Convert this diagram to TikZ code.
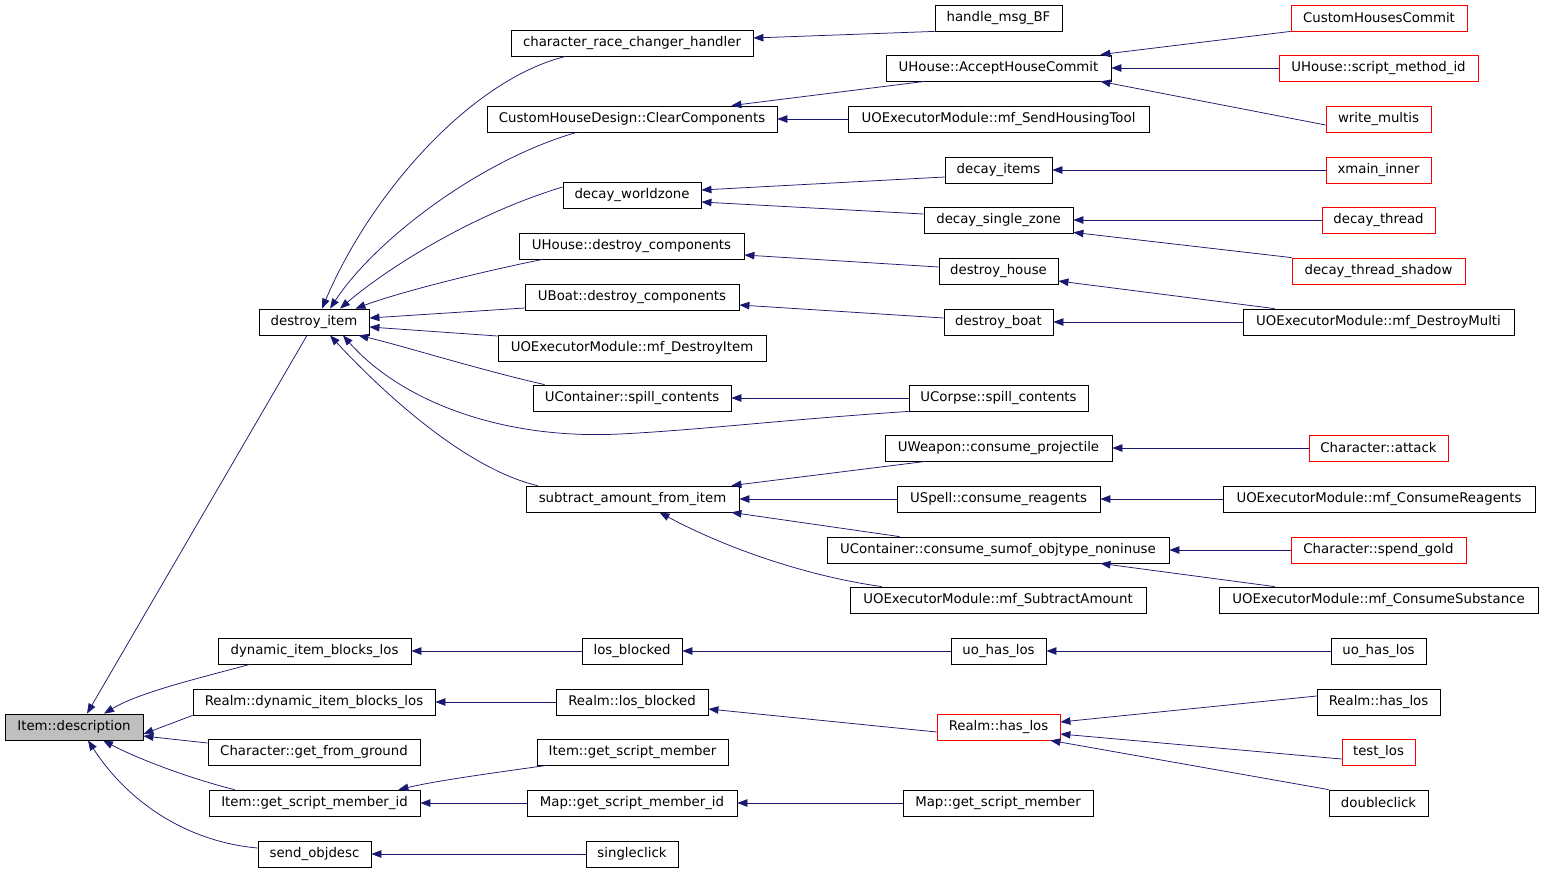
\documentclass[tikz,border=0pt]{standalone}
\usepackage{fontspec}
\setmainfont{DejaVu Sans}
\usetikzlibrary{arrows.meta}
\definecolor{navy}{HTML}{191970}
\definecolor{redb}{HTML}{FF0000}
\definecolor{grayf}{HTML}{BFBFBF}
\begin{document}
\begin{tikzpicture}[x=1pt,y=-1pt,
  nb/.style={draw=black,line width=0.8pt,rectangle,minimum height=26pt,inner sep=0pt,
     font=\fontsize{13.3}{15}\selectfont,text=black},
  rb/.style={nb,draw=redb},
  call/.style={draw=navy,line width=0.75pt,-{Triangle[length=10pt,width=7.5pt,fill=navy]}}]
\useasboundingbox[fill=white] (0,0) rectangle (1544,873);
% column 0
\node[nb,fill=grayf,minimum width=138] (desc) at (74,727) {Item::description};
% column 1
\node[nb,minimum width=110] (di) at (314,322) {destroy\_item};
\node[nb,minimum width=193] (dibl) at (314.5,651) {dynamic\_item\_blocks\_los};
\node[nb,minimum width=242] (rdibl) at (314,702) {Realm::dynamic\_item\_blocks\_los};
\node[nb,minimum width=212] (cgfg) at (314,752) {Character::get\_from\_ground};
\node[nb,minimum width=211] (igsmi) at (314.5,803) {Item::get\_script\_member\_id};
\node[nb,minimum width=113] (sod) at (314.5,854) {send\_objdesc};
% column 2
\node[nb,minimum width=242] (crch) at (632,43) {character\_race\_changer\_handler};
\node[nb,minimum width=290] (chdcc) at (632,119) {CustomHouseDesign::ClearComponents};
\node[nb,minimum width=138] (dwz) at (632,195) {decay\_worldzone};
\node[nb,minimum width=225] (uhdc) at (631.5,246) {UHouse::destroy\_components};
\node[nb,minimum width=214] (ubdc) at (632,297) {UBoat::destroy\_components};
\node[nb,minimum width=268] (mfdi) at (632,348) {UOExecutorModule::mf\_DestroyItem};
\node[nb,minimum width=198] (ucsc) at (632,398) {UContainer::spill\_contents};
\node[nb,minimum width=213] (safi) at (632.5,499) {subtract\_amount\_from\_item};
\node[nb,minimum width=100] (lb) at (632,651) {los\_blocked};
\node[nb,minimum width=152] (rlb) at (632,702) {Realm::los\_blocked};
\node[nb,minimum width=191] (igsm) at (632.5,752) {Item::get\_script\_member};
\node[nb,minimum width=210] (mgsmi) at (632,803) {Map::get\_script\_member\_id};
\node[nb,minimum width=92] (sc) at (632,854) {singleclick};
% column 3
\node[nb,minimum width=127] (hbf) at (998.5,18) {handle\_msg\_BF};
\node[nb,minimum width=225] (uahc) at (998.5,68) {UHouse::AcceptHouseCommit};
\node[nb,minimum width=301] (mfsht) at (998.5,119) {UOExecutorModule::mf\_SendHousingTool};
\node[nb,minimum width=107] (dci) at (998.5,170) {decay\_items};
\node[nb,minimum width=149] (dsz) at (998.5,220) {decay\_single\_zone};
\node[nb,minimum width=119] (dh) at (998.5,271) {destroy\_house};
\node[nb,minimum width=109] (db) at (998.5,322) {destroy\_boat};
\node[nb,minimum width=179] (ucpsc) at (998.5,398) {UCorpse::spill\_contents};
\node[nb,minimum width=227] (uwcp) at (998.5,448) {UWeapon::consume\_projectile};
\node[nb,minimum width=203] (uscr) at (998.5,499) {USpell::consume\_reagents};
\node[nb,minimum width=342] (ucco) at (998,550) {UContainer::consume\_sumof\_objtype\_noninuse};
\node[nb,minimum width=296] (mfsa) at (998,600) {UOExecutorModule::mf\_SubtractAmount};
\node[nb,minimum width=95] (uhl3) at (998.5,651) {uo\_has\_los};
\node[rb,minimum width=123] (rhl3) at (998.5,727) {Realm::has\_los};
\node[nb,minimum width=190] (mgsm) at (998,803) {Map::get\_script\_member};
% column 4
\node[rb,minimum width=176] (chc) at (1379,18) {CustomHousesCommit};
\node[rb,minimum width=199] (uhsm) at (1378.5,68) {UHouse::script\_method\_id};
\node[rb,minimum width=105] (wm) at (1378.5,119) {write\_multis};
\node[rb,minimum width=105] (xmi) at (1378.5,170) {xmain\_inner};
\node[rb,minimum width=113] (dt) at (1378.5,220) {decay\_thread};
\node[rb,minimum width=173] (dts) at (1378.5,271) {decay\_thread\_shadow};
\node[nb,minimum width=271] (mfdm) at (1378.5,322) {UOExecutorModule::mf\_DestroyMulti};
\node[rb,minimum width=139] (ca) at (1378.5,448) {Character::attack};
\node[nb,minimum width=312] (mfcr) at (1379,499) {UOExecutorModule::mf\_ConsumeReagents};
\node[rb,minimum width=175] (csg) at (1378.5,550) {Character::spend\_gold};
\node[nb,minimum width=319] (mfcs) at (1378.5,600) {UOExecutorModule::mf\_ConsumeSubstance};
\node[nb,minimum width=95] (uhl4) at (1378.5,651) {uo\_has\_los};
\node[nb,minimum width=123] (rhl4) at (1378.5,702) {Realm::has\_los};
\node[rb,minimum width=73] (tl) at (1378.5,752) {test\_los};
\node[nb,minimum width=99] (dc) at (1378.5,803) {doubleclick};
% edges into Item::description
\draw[call] ([xshift=-7pt]di.south) -- ([xshift=13pt]desc.north);
\draw[call] ([xshift=32pt]dibl.south west) .. controls (200,678) and (140,692) .. ([xshift=30pt]desc.north);
\draw[call] (rdibl.south west) -- ([yshift=-7pt]desc.east);
\draw[call] ([yshift=9pt]cgfg.west) -- ([yshift=-9pt]desc.east);
\draw[call] ([xshift=26pt]igsmi.north west) .. controls (195,780) and (140,760) .. ([xshift=29pt]desc.south);
\draw[call] ([yshift=6pt]sod.west) .. controls (190,842) and (130,805) .. ([xshift=14pt]desc.south);
% edges into destroy_item
\draw[call] ([xshift=55pt]crch.south west) .. controls (470,80) and (370,195) .. ([xshift=8pt]di.north);
\draw[call] ([xshift=90pt]chdcc.south west) .. controls (480,160) and (375,240) .. ([xshift=16pt]di.north);
\draw[call] ([yshift=8pt]dwz.west) .. controls (470,215) and (385,270) .. ([xshift=26pt]di.north);
\draw[call] ([xshift=24pt]uhdc.south west) .. controls (480,272) and (400,292) .. ([xshift=-14pt]di.north east);
\draw[call] ([yshift=-11pt]ubdc.west) -- ([yshift=4pt]di.east);
\draw[call] ([yshift=12pt]mfdi.west) -- ([yshift=-5pt]di.east);
\draw[call] ([xshift=12pt]ucsc.north west) .. controls (480,370) and (400,345) .. ([xshift=-11pt]di.south east);
\draw[call] (ucpsc.south west) .. controls (780,420) and (700,430) .. (620,434)
   .. controls (500,440) and (400,400) .. ([xshift=29pt]di.south);
\draw[call] ([xshift=12pt]safi.north west) .. controls (470,470) and (390,400) .. ([xshift=16pt]di.south);
% edges into column 2
\draw[call] (hbf.south west) -- ([yshift=5pt]crch.east);
\draw[call] ([xshift=39pt]uahc.south west) -- ([xshift=-46pt]chdcc.north east);
\draw[call] (mfsht.west) -- (chdcc.east);
\draw[call] ([yshift=-7pt]dci.west) -- ([yshift=5pt]dwz.east);
\draw[call] ([yshift=6pt]dsz.west) -- ([yshift=-7pt]dwz.east);
\draw[call] ([yshift=4pt]dh.west) -- ([yshift=-9pt]uhdc.east);
\draw[call] ([yshift=4pt]db.west) -- ([yshift=-8pt]ubdc.east);
\draw[call] (ucpsc.west) -- (ucsc.east);
\draw[call] ([xshift=41pt]uwcp.south west) -- ([xshift=-8pt]safi.north east);
\draw[call] (uscr.west) -- (safi.east);
\draw[call] ([xshift=73pt]ucco.north west) -- ([xshift=-8pt]safi.south east);
\draw[call] ([xshift=32pt]mfsa.north west) .. controls (800,575) and (720,545) .. ([xshift=27pt]safi.south);
\draw[call] (lb.west) -- (dibl.east);
\draw[call] (rlb.west) -- (rdibl.east);
\draw[call] ([xshift=10pt]igsm.south west) .. controls (500,772) and (440,780) .. ([xshift=-22pt]igsmi.north east);
\draw[call] (mgsmi.west) -- (igsmi.east);
\draw[call] (sc.west) -- (sod.east);
% edges into column 3
\draw[call] (chc.south west) -- ([xshift=-11pt]uahc.north east);
\draw[call] (uhsm.west) -- (uahc.east);
\draw[call] ([yshift=-6pt]wm.west) -- ([xshift=-11pt]uahc.south east);
\draw[call] (xmi.west) -- (dci.east);
\draw[call] (dt.west) -- (dsz.east);
\draw[call] (dts.north west) -- ([yshift=1pt]dsz.south east);
\draw[call] ([xshift=32pt]mfdm.north west) -- ([yshift=-10pt]dh.east);
\draw[call] (mfdm.west) -- (db.east);
\draw[call] (ca.west) -- (uwcp.east);
\draw[call] (mfcr.west) -- (uscr.east);
\draw[call] (csg.west) -- (ucco.east);
\draw[call] ([xshift=56pt]mfcs.north west) -- ([xshift=-69pt]ucco.south east);
\draw[call] (uhl4.west) -- (uhl3.east);
\draw[call] (uhl3.west) -- (lb.east);
\draw[call] ([yshift=-5pt]rhl3.west) -- ([yshift=-7pt]rlb.east);
\draw[call] (mgsm.west) -- (mgsmi.east);
\draw[call] ([yshift=6pt]rhl4.west) -- ([yshift=5pt]rhl3.east);
\draw[call] ([yshift=-7pt]tl.west) -- ([yshift=-7pt]rhl3.east);
\draw[call] (dc.north west) -- ([xshift=-10pt]rhl3.south east);
\end{tikzpicture}
\end{document}
